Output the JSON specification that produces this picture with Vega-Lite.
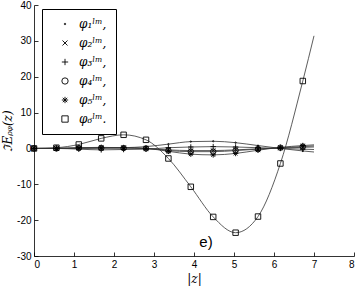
{
  "$schema": "https://vega.github.io/schema/vega-lite/v6.json",
  "width": 320,
  "height": 251,
  "autosize": "none",
  "padding": {"left": 34, "top": 5, "right": 3, "bottom": 30},
  "config": {
    "view": {"stroke": null},
    "axis": {"grid": false, "domainColor": "black", "tickColor": "black", "labelColor": "black", "titleColor": "black", "labelFont": "Liberation Sans", "labelFontSize": 10, "titleFont": "DejaVu Serif", "titleFontWeight": "normal", "titleFontStyle": "italic", "titleFontSize": 12, "tickSize": -4, "labelPadding": 7, "domainWidth": 0.8, "tickWidth": 0.8}
  },
  "datasets": {
    "main": [
      {"s":"φ₁ˡᵐ,","x":0,"y":0,"m":1},{"s":"φ₁ˡᵐ,","x":0.56,"y":0,"m":1},{"s":"φ₁ˡᵐ,","x":1.12,"y":0.05,"m":1},{"s":"φ₁ˡᵐ,","x":1.68,"y":0.1,"m":1},{"s":"φ₁ˡᵐ,","x":2.24,"y":0.2,"m":1},{"s":"φ₁ˡᵐ,","x":2.8,"y":0.5,"m":1},{"s":"φ₁ˡᵐ,","x":3.36,"y":1.2,"m":1},{"s":"φ₁ˡᵐ,","x":3.92,"y":1.9,"m":1},{"s":"φ₁ˡᵐ,","x":4.48,"y":2.0,"m":1},{"s":"φ₁ˡᵐ,","x":5.04,"y":1.6,"m":1},{"s":"φ₁ˡᵐ,","x":5.6,"y":0.8,"m":1},{"s":"φ₁ˡᵐ,","x":6.16,"y":0.0,"m":1},{"s":"φ₁ˡᵐ,","x":6.72,"y":-0.7,"m":1},{"s":"φ₁ˡᵐ,","x":7,"y":-1.0,"m":0},
      {"s":"φ₂ˡᵐ,","x":0,"y":0,"m":1},{"s":"φ₂ˡᵐ,","x":0.56,"y":0,"m":1},{"s":"φ₂ˡᵐ,","x":1.12,"y":0.1,"m":1},{"s":"φ₂ˡᵐ,","x":1.68,"y":0.2,"m":1},{"s":"φ₂ˡᵐ,","x":2.24,"y":0.2,"m":1},{"s":"φ₂ˡᵐ,","x":2.8,"y":0,"m":1},{"s":"φ₂ˡᵐ,","x":3.36,"y":-0.4,"m":1},{"s":"φ₂ˡᵐ,","x":3.92,"y":-0.6,"m":1},{"s":"φ₂ˡᵐ,","x":4.48,"y":-0.6,"m":1},{"s":"φ₂ˡᵐ,","x":5.04,"y":-0.4,"m":1},{"s":"φ₂ˡᵐ,","x":5.6,"y":-0.1,"m":1},{"s":"φ₂ˡᵐ,","x":6.16,"y":0.1,"m":1},{"s":"φ₂ˡᵐ,","x":6.72,"y":0.3,"m":1},{"s":"φ₂ˡᵐ,","x":7,"y":0.4,"m":0},
      {"s":"φ₃ˡᵐ,","x":0,"y":0,"m":1},{"s":"φ₃ˡᵐ,","x":0.56,"y":0,"m":1},{"s":"φ₃ˡᵐ,","x":1.12,"y":-0.2,"m":1},{"s":"φ₃ˡᵐ,","x":1.68,"y":-0.4,"m":1},{"s":"φ₃ˡᵐ,","x":2.24,"y":-0.3,"m":1},{"s":"φ₃ˡᵐ,","x":2.8,"y":-0.2,"m":1},{"s":"φ₃ˡᵐ,","x":3.36,"y":0.2,"m":1},{"s":"φ₃ˡᵐ,","x":3.92,"y":0.4,"m":1},{"s":"φ₃ˡᵐ,","x":4.48,"y":0.5,"m":1},{"s":"φ₃ˡᵐ,","x":5.04,"y":0.4,"m":1},{"s":"φ₃ˡᵐ,","x":5.6,"y":0.2,"m":1},{"s":"φ₃ˡᵐ,","x":6.16,"y":0,"m":1},{"s":"φ₃ˡᵐ,","x":6.72,"y":-0.2,"m":1},{"s":"φ₃ˡᵐ,","x":7,"y":-0.3,"m":0},
      {"s":"φ₄ˡᵐ,","x":0,"y":0,"m":1},{"s":"φ₄ˡᵐ,","x":0.56,"y":0,"m":1},{"s":"φ₄ˡᵐ,","x":1.12,"y":0.1,"m":1},{"s":"φ₄ˡᵐ,","x":1.68,"y":0.1,"m":1},{"s":"φ₄ˡᵐ,","x":2.24,"y":0.1,"m":1},{"s":"φ₄ˡᵐ,","x":2.8,"y":0,"m":1},{"s":"φ₄ˡᵐ,","x":3.36,"y":-0.6,"m":1},{"s":"φ₄ˡᵐ,","x":3.92,"y":-0.9,"m":1},{"s":"φ₄ˡᵐ,","x":4.48,"y":-0.9,"m":1},{"s":"φ₄ˡᵐ,","x":5.04,"y":-0.6,"m":1},{"s":"φ₄ˡᵐ,","x":5.6,"y":-0.2,"m":1},{"s":"φ₄ˡᵐ,","x":6.16,"y":0.2,"m":1},{"s":"φ₄ˡᵐ,","x":6.72,"y":0.5,"m":1},{"s":"φ₄ˡᵐ,","x":7,"y":0.7,"m":0},
      {"s":"φ₅ˡᵐ,","x":0,"y":0,"m":1},{"s":"φ₅ˡᵐ,","x":0.56,"y":0,"m":1},{"s":"φ₅ˡᵐ,","x":1.12,"y":0.2,"m":1},{"s":"φ₅ˡᵐ,","x":1.68,"y":0.3,"m":1},{"s":"φ₅ˡᵐ,","x":2.24,"y":0.2,"m":1},{"s":"φ₅ˡᵐ,","x":2.8,"y":0,"m":1},{"s":"φ₅ˡᵐ,","x":3.36,"y":-0.8,"m":1},{"s":"φ₅ˡᵐ,","x":3.92,"y":-1.6,"m":1},{"s":"φ₅ˡᵐ,","x":4.48,"y":-1.8,"m":1},{"s":"φ₅ˡᵐ,","x":5.04,"y":-1.4,"m":1},{"s":"φ₅ˡᵐ,","x":5.6,"y":-0.5,"m":1},{"s":"φ₅ˡᵐ,","x":6.16,"y":0.3,"m":1},{"s":"φ₅ˡᵐ,","x":6.72,"y":0.8,"m":1},{"s":"φ₅ˡᵐ,","x":7,"y":1.0,"m":0},
      {"s":"φ₆ˡᵐ.","x":0,"y":0,"m":1},{"s":"φ₆ˡᵐ.","x":0.56,"y":0.2,"m":1},{"s":"φ₆ˡᵐ.","x":1.12,"y":1.1,"m":1},{"s":"φ₆ˡᵐ.","x":1.68,"y":2.8,"m":1},{"s":"φ₆ˡᵐ.","x":2.24,"y":3.8,"m":1},{"s":"φ₆ˡᵐ.","x":2.8,"y":2.4,"m":1},{"s":"φ₆ˡᵐ.","x":3.36,"y":-2.8,"m":1},{"s":"φ₆ˡᵐ.","x":3.92,"y":-10.7,"m":1},{"s":"φ₆ˡᵐ.","x":4.48,"y":-19.1,"m":1},{"s":"φ₆ˡᵐ.","x":5.04,"y":-23.5,"m":1},{"s":"φ₆ˡᵐ.","x":5.6,"y":-19.0,"m":1},{"s":"φ₆ˡᵐ.","x":6.16,"y":-4.2,"m":1},{"s":"φ₆ˡᵐ.","x":6.72,"y":18.8,"m":1},{"s":"φ₆ˡᵐ.","x":7,"y":31.4,"m":0}
    ]
  },
  "data": {"name": "main"},
  "encoding": {
    "x": {"field": "x", "type": "quantitative", "scale": {"domain": [0, 8], "nice": false, "zero": false}, "axis": {"values": [0,1,2,3,4,5,6,7,8], "title": "|z|", "titlePadding": 4, "labelExpr": "'' + datum.value"}},
    "y": {"field": "y", "type": "quantitative", "scale": {"domain": [-30, 40], "nice": false}, "axis": {"values": [-30,-20,-10,0,10,20,30,40], "title": "ℑEᵨᵩ(z)", "titlePadding": 2, "titleFontSize": 12, "labelExpr": "'' + datum.value"}}
  },
  "layer": [
    {
      "mark": {"type": "line", "stroke": "#333333", "strokeWidth": 0.8, "interpolate": "monotone"},
      "encoding": {"detail": {"field": "s"}}
    },
    {
      "transform": [{"filter": "datum.m == 1"}],
      "mark": {"type": "point", "filled": false, "stroke": "black", "strokeWidth": 0.9, "size": 30, "opacity": 1},
      "encoding": {
        "shape": {
          "field": "s", "type": "nominal",
          "scale": {
            "domain": ["φ₁ˡᵐ,","φ₂ˡᵐ,","φ₃ˡᵐ,","φ₄ˡᵐ,","φ₅ˡᵐ,","φ₆ˡᵐ."],
            "range": [
              "M-0.25,0A0.25,0.25 0 1,0 0.25,0A0.25,0.25 0 1,0 -0.25,0Z",
              "M-0.8,-0.8L0.8,0.8M-0.8,0.8L0.8,-0.8",
              "M-1,0L1,0M0,-1L0,1",
              "circle",
              "M-1,0L1,0M0,-1L0,1M-0.7,-0.7L0.7,0.7M-0.7,0.7L0.7,-0.7",
              "square"
            ]
          },
          "legend": {
            "title": null, "orient": "none", "legendX": 8, "legendY": 4,
            "strokeColor": "black", "fillColor": "white", "padding": 9,
            "symbolStrokeColor": "black", "symbolFillColor": "transparent", "symbolStrokeWidth": 0.9, "symbolSize": 40, "symbolOffset": 8,
            "labelFont": "DejaVu Serif", "labelFontStyle": "italic", "labelFontSize": 12, "labelColor": "black", "labelOffset": 8,
            "rowPadding": 7,
            "labelExpr": "datum.label + '\u00a0\u00a0\u00a0\u00a0\u00a0\u00a0\u00a0\u00a0'"
          }
        }
      }
    },
    {
      "data": {"values": [{"x": 4.3, "y": -26, "t": "e)"}]},
      "mark": {"type": "text", "font": "Liberation Sans", "fontSize": 15, "color": "black"},
      "encoding": {"text": {"field": "t"}}
    }
  ]
}
